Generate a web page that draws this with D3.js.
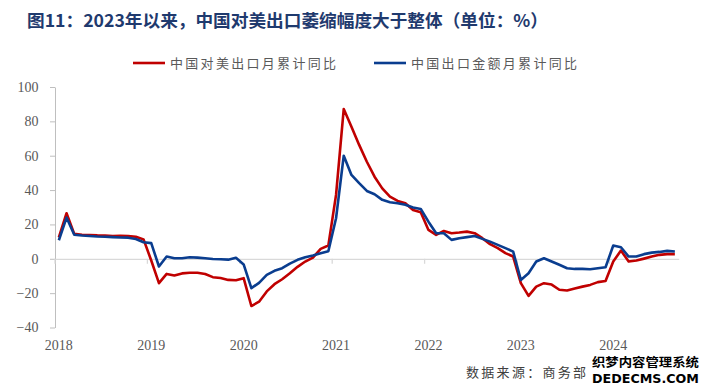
<!DOCTYPE html>
<html><head><meta charset="utf-8">
<script src="https://cdn.jsdelivr.net/npm/d3@7"></script>
<style>body{margin:0;background:#fff}svg{display:block}</style>
</head><body>
<svg id="c" width="701" height="387"></svg>
<script>
const years = ["2018","2019","2020","2021","2022","2023","2024"];
const monthsPerYear = [12,12,12,12,12,12,9];
const categories = years.flatMap((y,k)=>d3.range(monthsPerYear[k]).map(m=>y+"-"+String(m+1).padStart(2,"0")));
const seriesNames = ["中国对美出口月累计同比","中国出口金额月累计同比"];
const usExports = [
 12.5,26.5,14.5,14.0,13.8,13.6,13.5,13.3,13.4,13.2,12.8,11.3,
 -1.0,-14.2,-8.8,-9.7,-8.5,-8.1,-8.1,-8.9,-10.7,-11.2,-12.3,-12.5,
 -11.3,-27.5,-25.0,-19.0,-14.8,-11.9,-8.4,-4.7,-1.6,0.7,5.8,7.7,
 37.2,87.2,76.9,66.3,56.5,47.8,41.0,36.2,33.7,32.3,28.4,27.1,
 16.8,13.9,16.2,14.9,15.3,15.8,14.9,12.0,8.5,6.2,3.3,1.3,
 -14.2,-21.6,-16.2,-14.2,-15.0,-18.0,-18.5,-17.3,-16.2,-15.2,-13.6,-12.9,
 -1.6,4.8,-1.6,-1.0,0.1,1.3,2.3,2.7,2.7];
const totalExports = [
 10.8,24.0,14.0,13.6,13.3,13.0,12.8,12.6,12.4,12.3,11.5,9.6,
 9.1,-4.5,1.3,0.3,0.3,0.9,0.7,0.3,-0.1,-0.3,-0.5,0.6,
 -3.3,-17.1,-14.0,-9.4,-7.0,-5.5,-2.8,-0.6,0.9,1.9,3.2,4.4,
 23.6,60.0,48.8,44.0,39.5,37.6,34.3,32.9,32.3,31.4,29.8,29.0,
 21.6,14.9,14.9,11.0,12.0,12.6,13.3,11.6,10.0,8.1,6.2,4.2,
 -12.3,-8.4,-1.6,0.3,-1.6,-3.5,-5.5,-5.9,-5.9,-6.1,-5.5,-4.9,
 7.7,6.7,1.3,1.3,2.7,3.6,4.0,4.6,4.2];
const yTicks = [-40,-20,0,20,40,60,80,100];
const colors = ["#C00000","#0A3D8F"];

const svg = d3.select("#c");
const x = d3.scaleBand().domain(categories).range([55,678.7]).paddingInner(0).paddingOuter(0);
const y = d3.scaleLinear().domain([-40,100]).range([327.5,87]);
const cx = d => x(d)+x.bandwidth()/2;

// title
svg.append("text").attr("x",27).attr("y",27)
  .attr("font-family","'Noto Sans CJK SC','Noto Sans',sans-serif").attr("font-weight",700)
  .attr("font-size",17.5).attr("fill","#1F3A6E")
  .attr("textLength",521).attr("lengthAdjust","spacingAndGlyphs")
  .text("图11：2023年以来，中国对美出口萎缩幅度大于整体（单位：%）");

// legend
const legX = [133,374];
seriesNames.forEach((n,i)=>{
  svg.append("line").attr("x1",legX[i]).attr("x2",legX[i]+32).attr("y1",63).attr("y2",63)
    .attr("stroke",colors[i]).attr("stroke-width",2.6);
  svg.append("text").attr("x",legX[i]+37).attr("y",68)
    .attr("font-family","'Noto Sans CJK SC',sans-serif").attr("font-size",13)
    .attr("fill","#595959").attr("textLength",166).attr("lengthAdjust","spacing").text(n);
});

// y axis
const ya = svg.append("g").attr("transform","translate(55,0)")
  .call(d3.axisLeft(y).tickValues(yTicks).tickSize(5).tickPadding(11.5).tickSizeOuter(0));
ya.select(".domain").attr("stroke","#BFBFBF");
ya.selectAll(".tick line").attr("stroke","#BFBFBF");
ya.selectAll(".tick text").attr("font-family","'Liberation Serif',serif").attr("font-size",14).attr("fill","#595959");

// zero line with year ticks
const xa = svg.append("g").attr("transform",`translate(0,${y(0)})`)
  .call(d3.axisBottom(x).tickValues(categories.filter(c=>c.endsWith("-01"))).tickSize(5).tickFormat("").tickSizeOuter(0));
xa.select(".domain").attr("stroke","#D9D9D9").attr("stroke-width",1.3);
xa.selectAll(".tick").attr("transform",d=>`translate(${x(d)},0)`);
xa.selectAll(".tick line").attr("stroke","#D9D9D9").attr("stroke-width",1.3);

// year labels
svg.append("g").selectAll("text").data(years).join("text")
  .attr("x",d=>cx(d+"-01")).attr("y",350).attr("text-anchor","middle")
  .attr("font-family","'Liberation Serif',serif").attr("font-size",14).attr("fill","#595959")
  .text(d=>d);

// lines
const line = d3.line().x((d,i)=>cx(categories[i])).y(d=>y(d));
[usExports,totalExports].forEach((s,i)=>{
  svg.append("path").datum(s).attr("d",line).attr("fill","none")
    .attr("stroke",colors[i]).attr("stroke-width",2.6).attr("stroke-linejoin","round");
});

// source
svg.append("text").attr("x",466).attr("y",377)
  .attr("font-family","'Noto Sans CJK SC',sans-serif").attr("font-size",13).attr("fill","#404040")
  .attr("letter-spacing",2.3).text("数据来源：商务部");
// watermark
svg.append("text").attr("x",592).attr("y",367)
  .attr("font-family","'Noto Sans CJK SC',sans-serif").attr("font-weight",700).attr("font-size",12)
  .attr("fill","#000").attr("stroke","#fff").attr("stroke-width",2).attr("paint-order","stroke")
  .attr("textLength",107).attr("lengthAdjust","spacingAndGlyphs").text("织梦内容管理系统");
svg.append("text").attr("x",592).attr("y",383)
  .attr("font-family","'DejaVu Sans',sans-serif").attr("font-weight",700).attr("font-size",12)
  .attr("fill","#000").attr("stroke","#fff").attr("stroke-width",2).attr("paint-order","stroke")
  .attr("textLength",107).attr("lengthAdjust","spacingAndGlyphs").text("DEDECMS.COM");
</script>
</body></html>
